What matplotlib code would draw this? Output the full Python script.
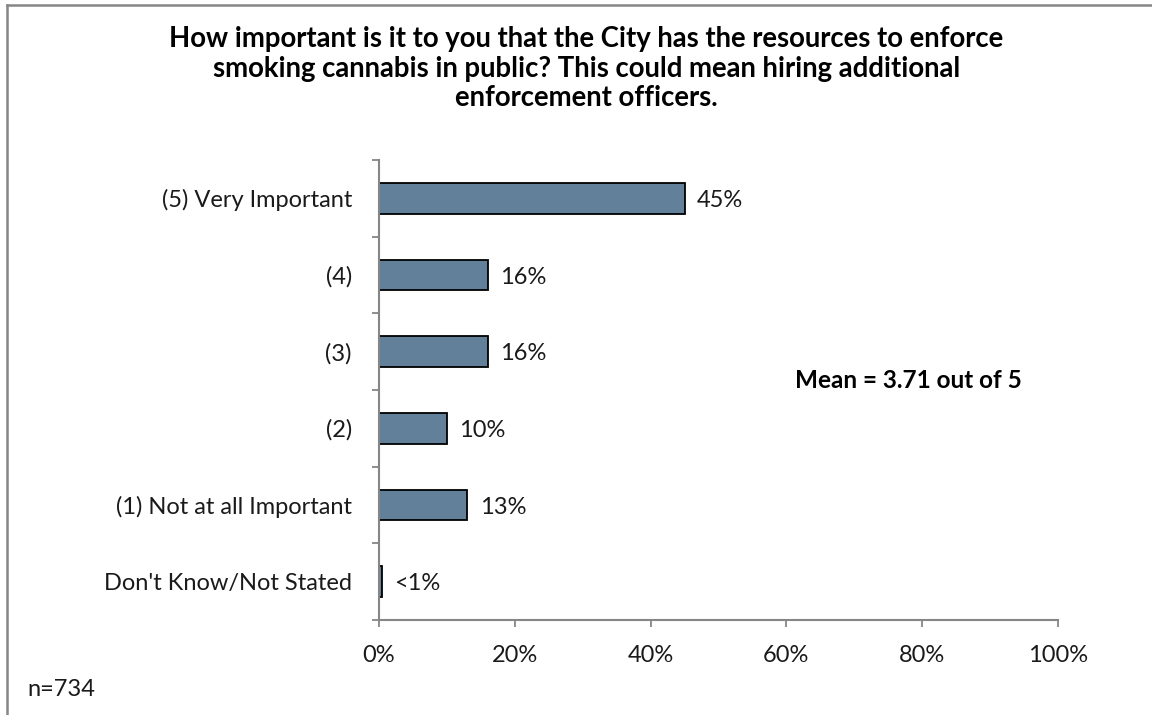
import matplotlib
matplotlib.use("Agg")
import matplotlib.pyplot as plt
from matplotlib.lines import Line2D

plt.rcParams['font.family'] = ['Lato', 'DejaVu Sans']

categories = ["(5) Very Important", "(4)", "(3)", "(2)",
              "(1) Not at all Important", "Don't Know/Not Stated"]
values = [45, 16, 16, 10, 13, 0.4]
value_labels = ["45%", "16%", "16%", "10%", "13%", "<1%"]
x_ticks = [0, 20, 40, 60, 80, 100]
x_tick_labels = ["0%", "20%", "40%", "60%", "80%", "100%"]
title = ("How important is it to you that the City has the resources to enforce\n"
         "smoking cannabis in public? This could mean hiring additional\n"
         "enforcement officers.")
mean_text = "Mean = 3.71 out of 5"
n_text = "n=734"

bar_color = "#62809A"
axis_gray = "#868686"
text_color = "#1a1a1a"
fs = 17

fig = plt.figure(figsize=(11.52, 7.15), dpi=100)
ax = fig.add_axes([0.329, 0.1329, 0.5894, 0.6434])

ypos = list(range(len(categories)))
ax.barh(ypos, values, height=0.4, color=bar_color, edgecolor="black", linewidth=1.3)
ax.set_ylim(len(categories) - 0.5, -0.5)
ax.set_xlim(0, 100)

for y, v, lab in zip(ypos, values, value_labels):
    ax.annotate(lab, (v, y), xytext=(9, -1.5), textcoords="offset points",
                va="center", ha="left", fontsize=fs, color=text_color)

ax.set_yticks(ypos)
ax.set_yticklabels(categories, fontsize=fs, color=text_color)
ax.set_yticks([i - 0.5 for i in range(len(categories) + 1)], minor=True)
ax.tick_params(axis="y", which="major", length=0, pad=19.5)
ax.tick_params(axis="y", which="minor", length=5, width=1.3, color=axis_gray)

ax.set_xticks(x_ticks)
ax.set_xticklabels(x_tick_labels, fontsize=fs, color=text_color)
ax.tick_params(axis="x", length=5, width=1.3, color=axis_gray, pad=13)

for side in ("top", "right"):
    ax.spines[side].set_visible(False)
for side in ("left", "bottom"):
    ax.spines[side].set_color(axis_gray)
    ax.spines[side].set_linewidth(1.5)

fig.text(0.509, 0.963, title, ha="center", va="top", fontsize=19.8,
         fontweight="bold", linespacing=1.15, color="black")
fig.text(0.69, 0.468, mean_text, ha="left", va="center", fontsize=17.5,
         fontweight="bold", color="black")
fig.text(0.0234, 0.036, n_text, ha="left", va="center", fontsize=fs, color=text_color)

# outer chart frame (left and top edges)
fig.add_artist(Line2D([7 / 1152, 7 / 1152], [0, 1 - 4.5 / 715], transform=fig.transFigure,
                      color=axis_gray, linewidth=1.8))
fig.add_artist(Line2D([7 / 1152, 1], [1 - 4.5 / 715, 1 - 4.5 / 715], transform=fig.transFigure,
                      color=axis_gray, linewidth=1.8))

fig.savefig("out.png", dpi=100, facecolor="white")
